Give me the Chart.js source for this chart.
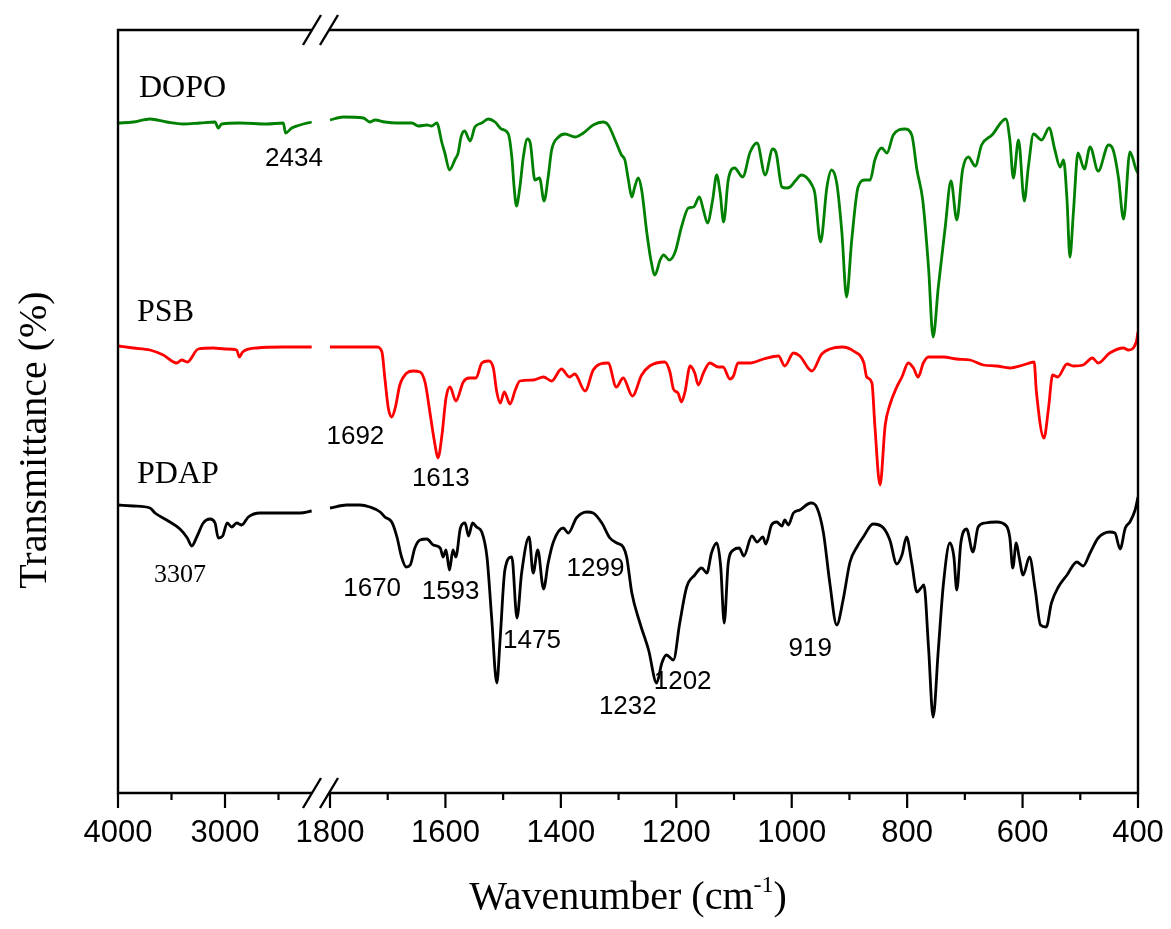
<!DOCTYPE html>
<html><head><meta charset="utf-8">
<script src="https://cdn.jsdelivr.net/npm/chart.js@4.4.1/dist/chart.umd.min.js"></script>
<style>html,body{margin:0;padding:0;background:#fff;}#wrap{width:1171px;height:929px;}</style>
</head><body><div id="wrap"><canvas id="c" width="1171" height="929"></canvas></div>
<script>
// ---------- DATA (wavenumber in cm-1, offset transmittance in arbitrary units) ----------
const dopoLeftWn = [4000,3857,3701,3545,3390,3234,3093,3063,3031,2860,2610,2455,2434,2377,2299,2190];
const dopoLeftT  = [670,671,674,671,669,670,671,665,669,670,669,670,660,665,668,671];
const dopoRightWn = [1800,1777,1742,1731,1722,1705,1684,1658,1647,1632,1624,1615,1606,1601,1593,1583,1578,1573,1567,1557,1549,1537,1526,1514,1503,1491,1485,1481,1477,1471,1465,1458,1453,1445,1437,1429,1422,1416,1404,1393,1375,1361,1344,1327,1318,1306,1295,1289,1283,1277,1272,1266,1260,1251,1244,1237,1228,1222,1212,1202,1191,1179,1170,1160,1153,1146,1137,1130,1124,1118,1110,1099,1085,1072,1060,1046,1033,1027,1017,1009,1003,994,983,965,960,950,939,931,922,913,905,896,885,873,864,856,844,835,824,804,792,783,773,763,755,746,734,724,714,704,694,682,671,653,629,622,616,607,597,590,581,567,554,544,535,529,523,518,512,504,493,483,469,451,443,434,425,414,403,400];
const dopoRightT  = [673,676,675,671,673,671,670,670,667,668,667,670,650,640,623,634,640,656,662,652,666,670,674,671,664,659,636,606,587,606,636,654,650,613,615,592,616,643,656,659,656,660,668,671,668,653,638,633,613,596,606,615,603,560,533,518,533,538,533,541,566,585,586,596,583,570,593,618,600,571,613,625,616,641,650,618,644,640,606,605,606,612,618,608,600,551,606,623,610,560,496,553,606,613,613,633,645,640,658,664,658,623,593,526,456,506,566,612,573,623,636,627,648,658,674,653,615,653,592,626,659,653,665,643,626,633,593,536,580,640,624,646,622,648,643,616,574,641,623,620];

const psbLeftWn = [4000,3857,3701,3577,3451,3405,3352,3250,3109,3000,2891,2866,2835,2704,2455,2190];
const psbLeftT  = [447,445,443,438,430,433,431,444,445,444,443,436,441,445,446,446];
const psbRightWn = [1800,1765,1719,1710,1705,1699,1693,1687,1679,1667,1656,1644,1635,1627,1618,1613,1606,1599,1592,1582,1569,1559,1547,1537,1526,1517,1511,1505,1498,1488,1479,1471,1448,1430,1416,1399,1385,1376,1358,1344,1332,1318,1304,1292,1276,1260,1246,1220,1211,1205,1197,1191,1185,1176,1168,1162,1153,1142,1127,1119,1107,1101,1093,1072,1049,1023,1012,997,986,965,948,934,913,893,875,870,861,856,847,838,830,818,809,798,789,781,772,763,737,714,691,668,645,622,599,580,576,563,555,548,539,523,512,495,479,469,449,425,417,403,400];
const psbRightT  = [446,446,446,441,415,385,376,385,408,420,422,421,410,381,348,335,358,395,406,392,411,415,415,430,432,425,401,390,401,389,403,412,413,416,412,424,416,419,402,423,429,430,406,415,397,418,427,431,421,404,400,391,401,427,420,408,420,430,426,426,414,417,430,430,434,437,427,440,437,422,439,444,446,442,430,416,410,368,308,368,388,406,416,430,425,416,430,436,436,434,433,428,427,425,428,431,401,355,385,418,416,429,427,428,435,430,440,445,443,451,461];

const pdapLeftWn = [4000,3857,3701,3654,3545,3421,3352,3311,3264,3203,3140,3093,3063,3022,2979,2937,2891,2844,2782,2673,2549,2423,2299,2190];
const pdapLeftT  = [288,287,285,280,273,264,255,247,256,270,274,270,255,257,270,266,270,268,276,280,280,280,280,282];
const pdapRightWn = [1800,1771,1748,1731,1713,1705,1693,1684,1676,1668,1661,1653,1644,1632,1621,1609,1604,1599,1593,1587,1582,1574,1566,1560,1553,1546,1537,1528,1520,1511,1505,1497,1485,1476,1468,1455,1448,1440,1430,1422,1413,1396,1387,1373,1355,1344,1329,1315,1303,1292,1286,1277,1263,1248,1234,1225,1217,1205,1194,1182,1168,1156,1147,1139,1130,1123,1117,1110,1101,1091,1083,1069,1060,1050,1045,1035,1026,1017,1012,1006,997,986,967,956,945,934,922,911,899,887,876,859,841,830,818,809,801,792,783,776,771,763,755,746,737,726,719,714,707,697,686,677,665,645,628,622,617,611,606,599,588,578,569,559,550,538,523,506,495,483,469,449,440,431,422,414,405,400];
const pdapRightT  = [285,288,288,286,281,276,271,256,236,226,228,245,253,254,248,245,236,243,223,243,236,265,270,257,270,266,261,236,176,110,156,223,236,175,220,256,220,243,204,230,251,265,260,275,281,280,270,255,250,246,236,200,170,143,110,130,138,133,170,206,218,225,220,240,250,226,170,230,243,245,237,257,251,256,249,268,271,267,273,268,280,283,290,285,260,210,168,193,231,246,256,269,265,253,229,238,256,230,201,205,208,146,76,143,210,250,236,203,250,264,241,266,270,271,267,255,225,250,236,218,236,203,168,166,190,206,218,231,227,240,255,261,260,244,265,271,283,296];

const seriesNames = ['DOPO','PSB','PDAP'];
const seriesColors = ['#008000','#ff0000','#000000'];

const majorTicks = [4000,3000,1800,1600,1400,1200,1000,800,600,400];
const minorTicks = [3500,2500,1700,1500,1300,1100,900,700,500];

// peak annotations: text, wavenumber anchor, value anchor
const peakText = ['2434','3307','1692','1613','1670','1593','1475','1299','1232','1202','919'];
const peakWn   = [2355,3421,1756,1608,1727,1591,1450,1340,1284,1189,968];
const peakVal  = [634,218,356,314,204,201,152,224,86,111,144];

// ---------- broken axis mapping ----------
const segments = [{hi:4000, lo:2000, u0:0, u1:214},{hi:1800, lo:400, u0:212, u1:1020}];
function toU(wn){ const s = wn > 1900 ? segments[0] : segments[1]; return s.u0 + (s.hi - wn)/(s.hi - s.lo)*(s.u1 - s.u0); }
const breakU = [194, 211];

function build(lw, lt, rw, rt){
  const d = lw.map((w,i)=>({x:toU(w), y:lt[i]}));
  d.push({x:(breakU[0]+breakU[1])/2, y:null});
  rw.forEach((w,i)=>d.push({x:toU(w), y:rt[i]}));
  return d;
}
const allData = [
  build(dopoLeftWn,dopoLeftT,dopoRightWn,dopoRightT),
  build(psbLeftWn,psbLeftT,psbRightWn,psbRightT),
  build(pdapLeftWn,pdapLeftT,pdapRightWn,pdapRightT)
];

const SERIF = '"Liberation Serif", "Times New Roman", serif';
const SANS = '"Liberation Sans", Arial, sans-serif';

const decor = {
  id:'decor',
  afterDraw(chart){
    const {ctx, chartArea:{left,right,top,bottom}, scales:{x,y}} = chart;
    const b1 = x.getPixelForValue(breakU[0]), b2 = x.getPixelForValue(breakU[1]);
    ctx.save();
    ctx.strokeStyle = '#000'; ctx.lineWidth = 2.4; ctx.lineJoin='miter';
    ctx.beginPath();
    ctx.moveTo(b1,top); ctx.lineTo(left,top); ctx.lineTo(left,bottom); ctx.lineTo(b1,bottom);
    ctx.moveTo(b2,top); ctx.lineTo(right,top); ctx.lineTo(right,bottom); ctx.lineTo(b2,bottom);
    ctx.stroke();
    ctx.beginPath();
    [b1,b2].forEach(b=>[top,bottom].forEach(yy=>{ ctx.moveTo(b-9, yy+15); ctx.lineTo(b+9, yy-15); }));
    ctx.stroke();
    ctx.lineWidth = 2.2;
    ctx.beginPath();
    majorTicks.forEach(w=>{ const px=x.getPixelForValue(toU(w)); ctx.moveTo(px,bottom); ctx.lineTo(px,bottom+15); });
    minorTicks.forEach(w=>{ const px=x.getPixelForValue(toU(w)); ctx.moveTo(px,bottom); ctx.lineTo(px,bottom+7); });
    ctx.stroke();

    ctx.fillStyle = '#000';
    // series labels
    ctx.font = '32px ' + SERIF; ctx.textAlign='left'; ctx.textBaseline='alphabetic';
    const lblWn = [3804,3822,3822], lblVal=[696,472,310];
    seriesNames.forEach((n,i)=>ctx.fillText(n, x.getPixelForValue(toU(lblWn[i])), y.getPixelForValue(lblVal[i])));
    // peak labels
    ctx.textAlign='center'; ctx.textBaseline='middle';
    peakText.forEach((t,i)=>{
      ctx.font = (t==='3307' ? '26px ' + SERIF : '26px ' + SANS);
      ctx.fillText(t, x.getPixelForValue(toU(peakWn[i])), y.getPixelForValue(peakVal[i]));
    });
    // x title with superscript
    const cx = (left+right)/2, base = 909;
    ctx.textBaseline='alphabetic'; ctx.textAlign='left';
    const f1 = '40px ' + SERIF, f2 = '24px ' + SERIF;
    ctx.font=f1; const wA = ctx.measureText('Wavenumber (cm').width, wC = ctx.measureText(')').width;
    ctx.font=f2; const wB = ctx.measureText('-1').width;
    let sx = cx - (wA+wB+wC)/2;
    ctx.font=f1; ctx.fillText('Wavenumber (cm', sx, base); sx += wA;
    ctx.font=f2; ctx.fillText('-1', sx, base-17); sx += wB;
    ctx.font=f1; ctx.fillText(')', sx, base);
    // y title
    ctx.translate(46, 440); ctx.rotate(-Math.PI/2);
    ctx.font = f1; ctx.textAlign='center'; ctx.textBaseline='alphabetic';
    ctx.fillText('Transmittance (%)', 0, 0);
    ctx.restore();
  }
};

new Chart(document.getElementById('c'), {
  type:'line',
  data:{ datasets: allData.map((d,i)=>({
    label: seriesNames[i], data:d, borderColor: seriesColors[i], borderWidth:2.8,
    pointRadius:0, fill:false, spanGaps:false, cubicInterpolationMode:'monotone'
  }))},
  options:{
    responsive:false, animation:false, devicePixelRatio:1,
    layout:{padding:{left:118,right:33,top:30,bottom:0}},
    plugins:{legend:{display:false}, tooltip:{enabled:false}},
    parsing:false,
    scales:{
      x:{ type:'linear', min:0, max:1020,
        grid:{display:false, drawTicks:false}, border:{display:false},
        afterBuildTicks(s){ s.ticks = majorTicks.map(w=>({value:toU(w)})); },
        afterFit(s){ s.height = 136; s.paddingLeft = 0; s.paddingRight = 0; },
        ticks:{ autoSkip:false, maxRotation:0, padding:22, color:'#000',
          font:{family:SANS, size:31, lineHeight:1.2},
          callback(v,i){ return String(majorTicks[i]); } }
      },
      y:{ display:false, min:0, max:763 }
    }
  },
  plugins:[decor]
});
</script></body></html>
